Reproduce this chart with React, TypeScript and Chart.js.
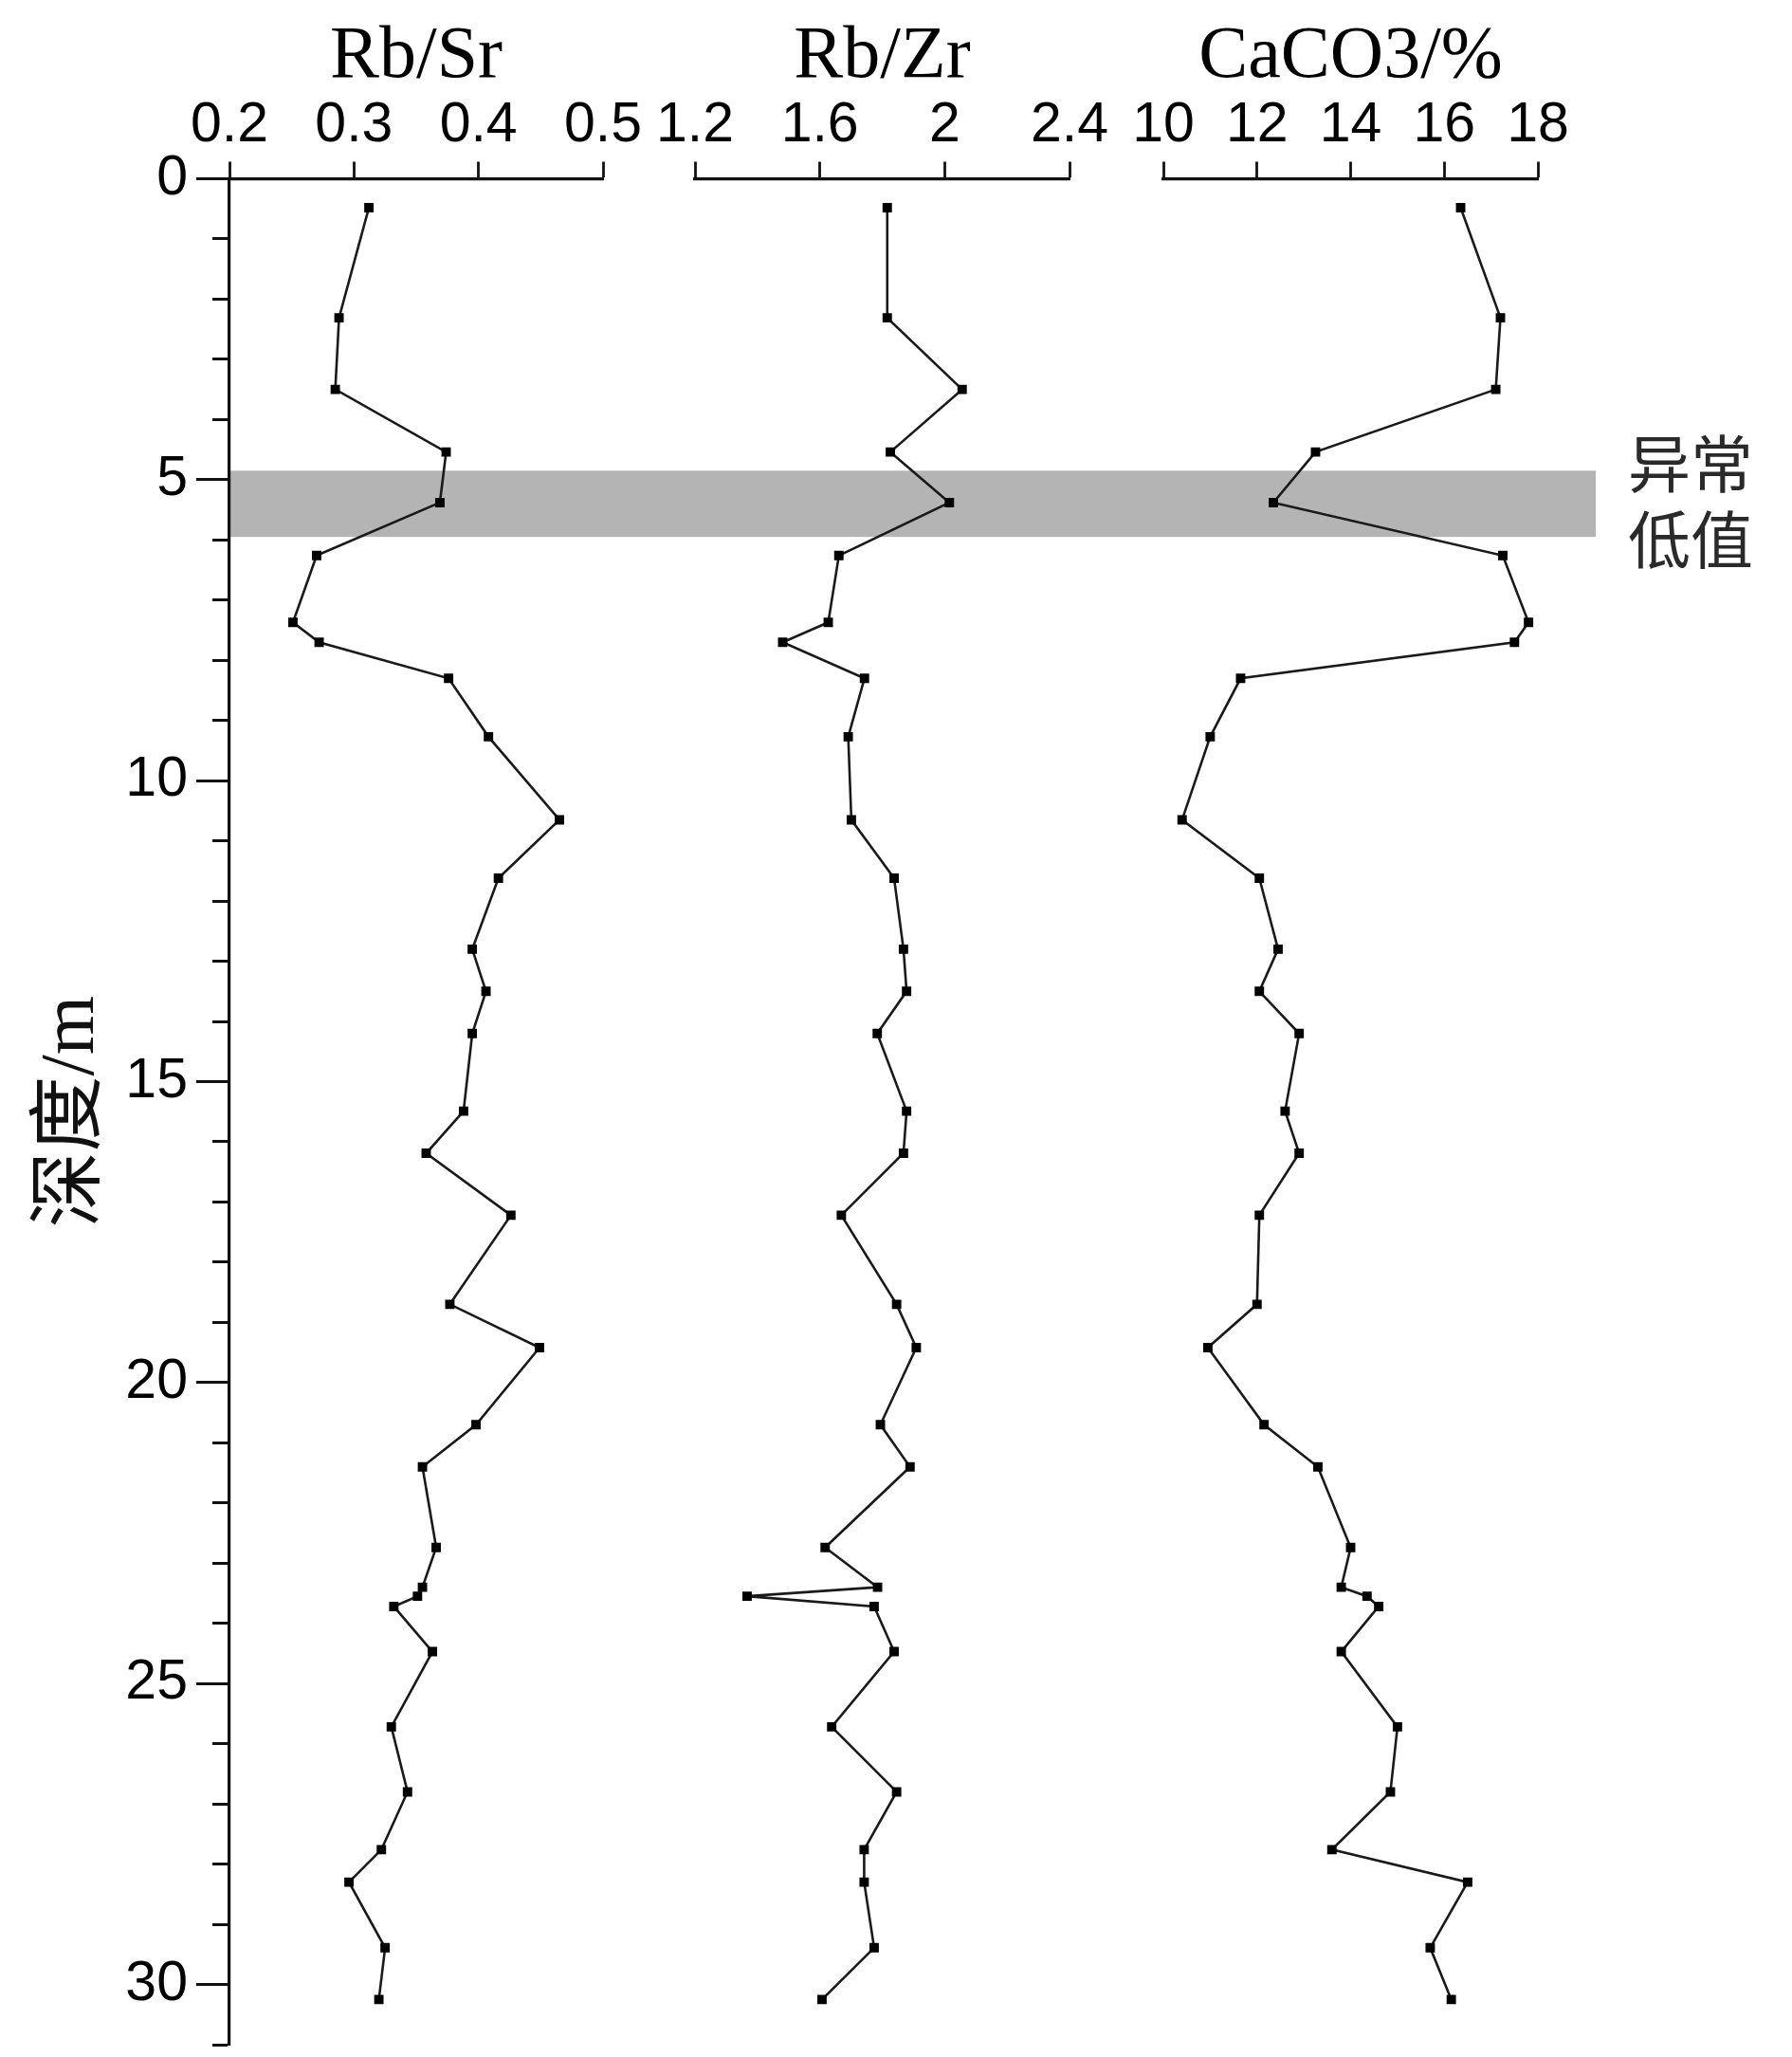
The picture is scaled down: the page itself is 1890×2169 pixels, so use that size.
import React, { useEffect, useRef } from 'react';
import { Chart, registerables } from 'chart.js';

Chart.register(...registerables);

// ---- data ----
const depths = [0.48, 2.31, 3.5, 4.54, 5.38, 6.26, 7.37, 7.7, 8.3, 9.27, 10.65, 11.62, 12.8, 13.5, 14.2, 15.49, 16.19, 17.22, 18.7, 19.42, 20.7, 21.4, 22.74, 23.4, 23.55, 23.72, 24.47, 25.72, 26.8, 27.76, 28.3, 29.39, 30.25];
const rbSr = [0.312, 0.288, 0.285, 0.374, 0.369, 0.27, 0.251, 0.272, 0.376, 0.408, 0.465, 0.416, 0.395, 0.406, 0.395, 0.388, 0.358, 0.426, 0.377, 0.449, 0.398, 0.355, 0.366, 0.355, 0.351, 0.332, 0.363, 0.33, 0.343, 0.322, 0.296, 0.325, 0.32];
const rbZr = [1.816, 1.816, 2.056, 1.826, 2.015, 1.661, 1.627, 1.481, 1.743, 1.691, 1.701, 1.838, 1.868, 1.878, 1.784, 1.878, 1.868, 1.669, 1.846, 1.909, 1.794, 1.889, 1.617, 1.785, 1.367, 1.774, 1.838, 1.638, 1.846, 1.742, 1.742, 1.774, 1.607];
const caco3 = [16.35, 17.2, 17.1, 13.25, 12.35, 17.25, 17.8, 17.5, 11.65, 11.0, 10.4, 12.05, 12.45, 12.05, 12.9, 12.6, 12.9, 12.05, 12.0, 10.95, 12.15, 13.3, 14.0, 13.8, 14.35, 14.6, 13.8, 15.0, 14.85, 13.6, 16.5, 15.7, 16.15];

// ---- tick labels ----
const rbSrTicks = [0.2, 0.3, 0.4, 0.5];
const rbZrTicks = [1.2, 1.6, 2.0, 2.4];
const caco3Ticks = [10, 12, 14, 16, 18];
const depthLabels = [0, 5, 10, 15, 20, 25, 30];
const depthTicks = [0, 1, 2, 3, 4, 5, 6, 7, 8, 9, 10, 11, 12, 13, 14, 15, 16, 17, 18, 19, 20, 21, 22, 23, 24, 25, 26, 27, 28, 29, 30, 31];
const depthRange = [0, 31];

// ---- titles / annotation ----
const titles = ['Rb/Sr', 'Rb/Zr', 'CaCO3/%'];
const depthTitle = '深度/m';
const anomalyBand = [4.85, 5.95];
const anomalyLabel = ['异常', '低值'];

const AXIS = '#111';
const tickFont = { family: '"Liberation Sans", Arial, sans-serif', size: 59 };
const titleFont = { family: '"Liberation Serif", "Times New Roman", serif', size: 78 };

function panelAxis(min: number, max: number, ticks: number[], title: string, widthWeight: number, order: number) {
  return {
    type: 'linear',
    axis: 'x',
    position: 'top',
    stack: 'panels',
    stackWeight: widthWeight,
    weight: order,
    min,
    max,
    afterBuildTicks: (s: any) => {
      s.ticks = ticks.map((v) => ({ value: v }));
    },
    afterFit: (s: any) => {
      s.height = 188.5;
      s.paddingLeft = 0;
      s.paddingRight = 0;
    },
    ticks: {
      font: tickFont,
      color: '#000',
      padding: 2,
      autoSkip: false,
      maxRotation: 0,
      minRotation: 0,
      callback: (v: any) => String(v),
    },
    grid: {
      display: true,
      drawOnChartArea: false,
      drawTicks: true,
      tickLength: 18,
      tickWidth: 2.8,
      tickColor: AXIS,
    },
    border: { display: true, color: AXIS, width: 3.2 },
    title: {
      display: true,
      text: title,
      font: titleFont,
      color: '#000',
      padding: { top: 14, bottom: 0 },
    },
  };
}

function gapAxis(widthWeight: number, order: number) {
  return {
    type: 'linear',
    axis: 'x',
    position: 'top',
    stack: 'panels',
    stackWeight: widthWeight,
    weight: order,
    display: false,
    min: 0,
    max: 1,
  };
}

const bandPlugin = {
  id: 'anomalyBand',
  beforeDraw(chart: any) {
    const { ctx, chartArea, scales } = chart;
    const y = scales.y;
    const top = y.getPixelForValue(anomalyBand[0]);
    const bot = y.getPixelForValue(anomalyBand[1]);
    ctx.save();
    ctx.fillStyle = '#b4b4b4';
    ctx.fillRect(chartArea.left, top, chartArea.right - chartArea.left, bot - top);
    const mid = (top + bot) / 2;
    ctx.fillStyle = '#2a2a2a';
    ctx.font = '66px "Noto Sans CJK SC", sans-serif';
    ctx.textAlign = 'center';
    ctx.textBaseline = 'middle';
    ctx.fillText(anomalyLabel[0], chartArea.right + 100, mid - 42);
    ctx.fillText(anomalyLabel[1], chartArea.right + 100, mid + 38);
    ctx.restore();
  },
};

function series(values: number[], axisId: string) {
  return {
    type: 'line',
    indexAxis: 'y',
    data: depths.map((d, i) => ({ x: values[i], y: d })),
    xAxisID: axisId,
    yAxisID: 'y',
    borderColor: '#1a1a1a',
    borderWidth: 2.6,
    pointStyle: 'rect',
    pointRadius: 7,
    pointBackgroundColor: '#000',
    pointBorderColor: '#000',
    pointBorderWidth: 0,
    fill: false,
    tension: 0,
  };
}

export default function App() {
  const ref = useRef<HTMLCanvasElement>(null);

  useEffect(() => {
    if (!ref.current) return;
    Chart.defaults.font.family = '"Liberation Sans", Arial, sans-serif';
    Chart.defaults.color = '#000';
    const chart = new Chart(ref.current, {
      type: 'line',
      data: {
        datasets: [series(rbSr, 'x1'), series(rbZr, 'x2'), series(caco3, 'x3')] as any,
      },
      options: {
        indexAxis: 'y',
        animation: false,
        responsive: false,
        devicePixelRatio: 1,
        layout: { padding: { left: 0, top: 0, right: 207, bottom: 13 } },
        plugins: {
          legend: { display: false },
          tooltip: { enabled: false },
        },
        scales: {
          x1: panelAxis(rbSrTicks[0], rbSrTicks[rbSrTicks.length - 1], rbSrTicks, titles[0], 394, 6),
          g1: gapAxis(97, 5),
          x2: panelAxis(rbZrTicks[0], rbZrTicks[rbZrTicks.length - 1], rbZrTicks, titles[1], 395, 4),
          g2: gapAxis(99, 3),
          x3: panelAxis(caco3Ticks[0], caco3Ticks[caco3Ticks.length - 1], caco3Ticks, titles[2], 395, 2),
          g3: gapAxis(61, 1),
          y: {
            type: 'linear',
            axis: 'y',
            position: 'left',
            reverse: true,
            min: depthRange[0],
            max: depthRange[1],
            afterBuildTicks: (s: any) => {
              s.ticks = depthTicks.map((v) => ({ value: v }));
            },
            afterFit: (s: any) => {
              s.width = 242;
              s.paddingTop = 0;
              s.paddingBottom = 0;
            },
            ticks: {
              font: tickFont,
              color: '#000',
              padding: 9,
              autoSkip: false,
              callback: (v: any) => (depthLabels.includes(v) ? String(v) : ''),
            },
            grid: {
              display: true,
              drawOnChartArea: false,
              drawTicks: true,
              tickLength: 35,
              tickWidth: 3,
              tickColor: AXIS,
              tickBorderDash: (c: any) => (c.tick && depthLabels.includes(c.tick.value) ? [] : [0, 17, 100]),
            },
            border: { display: true, color: AXIS, width: 3.2 },
            title: {
              display: true,
              text: depthTitle,
              font: { family: '"Liberation Serif", "Noto Sans CJK SC", serif', size: 80 },
              color: '#111',
              padding: { top: 29, bottom: 0 },
            },
          },
        } as any,
      },
      plugins: [bandPlugin],
    } as any);
    return () => chart.destroy();
  }, []);

  return (
    <div style={{ position: 'absolute', left: 0, top: 0, width: 1890, height: 2169, background: '#fff' }}>
      <canvas ref={ref} width={1890} height={2169} style={{ display: 'block', width: '1890px', height: '2169px' }} />
    </div>
  );
}
